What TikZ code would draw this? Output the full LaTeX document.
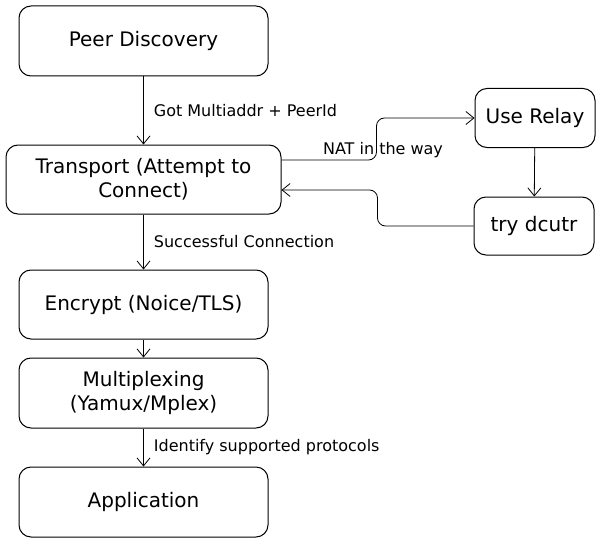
\documentclass[tikz,border=0pt]{standalone}
\usepackage{fontspec}
\setmainfont{DejaVu Sans}
\usetikzlibrary{arrows.meta,calc}
\begin{document}
\begin{tikzpicture}[x=1pt,y=-1pt,
  box/.style={draw=black,line width=1pt,rounded corners=12pt,align=center,
    font=\fontsize{20}{24}\selectfont,inner sep=0pt},
  conn/.style={draw=black,line width=0.8pt,-{Straight Barb[length=8pt,width=13pt]}},
  lbl/.style={font=\fontsize{16}{19}\selectfont,inner sep=0pt}]
\useasboundingbox (0,0) rectangle (600,543);
\node[box,minimum width=249pt,minimum height=70pt] (P) at (143.5,41) {Peer Discovery};
\node[box,minimum width=275pt,minimum height=69pt] (T) at (143.5,179.5) {Transport (Attempt to\\Connect)};
\node[box,minimum width=249pt,minimum height=69pt] (E) at (143.5,304.5) {Encrypt (Noice/TLS)};
\node[box,minimum width=249pt,minimum height=70pt] (M) at (143.5,393) {Multiplexing\\(Yamux/Mplex)};
\node[box,minimum width=249pt,minimum height=70pt] (A) at (143.5,502) {Application};
\node[box,minimum width=120pt,minimum height=59pt] (R) at (535,118) {Use Relay};
\node[box,minimum width=120pt,minimum height=58pt] (D) at (534,226) {try dcutr};

\draw[conn] (P) -- (T) node[lbl,midway,right=10pt] (l1) {Got Multiaddr + PeerId};
\draw[conn] (T) -- (E) node[lbl,midway,right=10pt] (l2) {Successful Connection};
\draw[conn] (E) -- (M);
\draw[conn] (M) -- (A) node[lbl,midway,right=10pt] (l3) {Identify supported protocols};
\draw[conn] (R) -- (D);
\draw[conn,rounded corners=8pt] ([yshift=19.5pt]T.east) -- ++(95,0) |- (R.west);
\node[lbl] (l4) at (383,150) {NAT in the way};
\draw[conn,rounded corners=8pt] (D.west) -- ++(-96,0) |- ([yshift=-10.5pt]T.east);
\end{tikzpicture}
\end{document}
